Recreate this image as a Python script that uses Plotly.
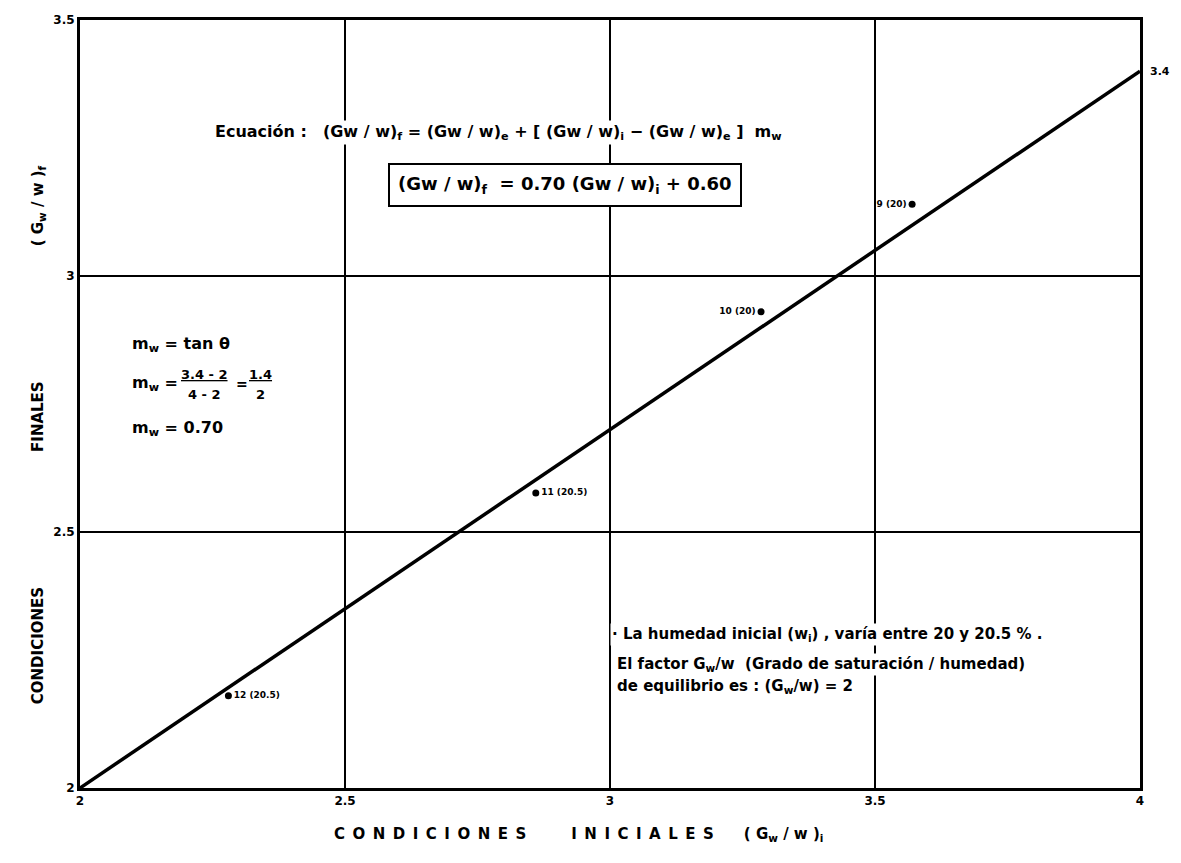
import plotly.graph_objects as go

# recta de ajuste: condiciones iniciales vs finales
recta_x = [2, 4]
recta_y = [2, 3.4]

# puntos de ensayo (muestra y humedad inicial)
puntos_x = [3.57, 3.285, 2.86, 2.28]
puntos_y = [3.14, 2.93, 2.576, 2.18]
etiquetas = ["9 (20)", "10 (20)", "11 (20.5)", "12 (20.5)"]
posiciones = ["middle left", "middle left", "middle right", "middle right"]

ticks_x = [2, 2.5, 3, 3.5, 4]
ticks_x_txt = ["2", "2.5", "3", "3.5", "4"]
ticks_y = [2, 2.5, 3, 3.5]
ticks_y_txt = ["2", "2.5", "3", "3.5"]

FUENTE = "'DejaVu Sans', sans-serif"
E = "\u2003"  # espacio ancho
M = "\u2002"  # medio espacio ancho


def espaciar(palabra):
    return M.join(palabra)


fig = go.Figure()

fig.add_trace(go.Scatter(x=recta_x, y=recta_y, mode="lines",
                         line=dict(color="black", width=3.5), hoverinfo="skip"))

fig.add_trace(go.Scatter(x=puntos_x, y=puntos_y, mode="markers+text",
                         marker=dict(color="black", size=7),
                         text=["<b>%s</b>" % e for e in etiquetas],
                         textposition=posiciones,
                         textfont=dict(family=FUENTE, size=9, color="black")))

def nota(x, y, texto, size=15, xanchor="left", **kw):
    fig.add_annotation(x=x, y=y, xref="x", yref="y", text=texto, showarrow=False,
                       xanchor=xanchor, yanchor="middle",
                       font=dict(family=FUENTE, size=size, color="black"), **kw)

# etiqueta del extremo de la recta
nota(recta_x[-1], recta_y[-1], "<b>3.4</b>", size=11, xshift=8)

# ecuación general y recta resultante
nota(2.25, 3.28, "<b>Ecuación :" + E + "(Gw / w)<sub>f</sub> = (Gw / w)<sub>e</sub> + [ (Gw / w)<sub>i</sub> − (Gw / w)<sub>e</sub> ]  m<sub>w</sub></b>",
     size=16, bgcolor="white")
nota(2.915, 3.178, "<b>(Gw / w)<sub>f</sub>  = 0.70 (Gw / w)<sub>i</sub> + 0.60</b>", size=18,
     xanchor="center", bgcolor="white", bordercolor="black", borderwidth=2, borderpad=8)

# pendiente
nota(2.094, 2.867, "<b>m<sub>w</sub> = tan θ</b>", size=16)
nota(2.094, 2.79, "<b>m<sub>w</sub> = </b>", size=16)
nota(2.235, 2.808, "<b><u>3.4 - 2</u></b>", size=13, xanchor="center")
nota(2.235, 2.768, "<b>4 - 2</b>", size=13, xanchor="center")
nota(2.305, 2.79, "<b>=</b>", size=14, xanchor="center")
nota(2.34, 2.808, "<b><u>1.4</u></b>", size=13, xanchor="center")
nota(2.34, 2.768, "<b>2</b>", size=13, xanchor="center")
nota(2.094, 2.703, "<b>m<sub>w</sub> = 0.70</b>", size=16)

# notas inferiores
nota(3.0, 2.30, "<b>· La humedad inicial (w<sub>i</sub>) , varía entre 20 y 20.5 % .</b>", size=15, bgcolor="white")
nota(3.01, 2.242, "<b>El factor G<sub>w</sub>/w  (Grado de saturación / humedad)</b>", size=15, bgcolor="white")
nota(3.01, 2.199, "<b>de equilibrio es : (G<sub>w</sub>/w) = 2</b>", size=15, bgcolor="white")

# títulos de ejes
fig.add_annotation(x=0.47, y=-0.075, xref="paper", yref="paper", showarrow=False,
                   text="<b>" + espaciar("CONDICIONES") + E * 3 + espaciar("INICIALES") + E * 2
                        + "( G<sub>w</sub> / w )<sub>i</sub></b>",
                   font=dict(family=FUENTE, size=15, color="black"))
fig.add_annotation(x=-0.05, y=0.46, xref="paper", yref="paper", showarrow=False, textangle=-90,
                   text="<b>CONDICIONES" + E * 9 + "FINALES" + E * 9 + "( G<sub>w</sub> / w )<sub>f</sub></b>",
                   font=dict(family=FUENTE, size=15, color="black"))

eje = dict(showline=True, linecolor="black", linewidth=3, mirror=True,
           showgrid=True, gridcolor="black", gridwidth=1.5, zeroline=False,
           ticks="", tickfont=dict(family=FUENTE, size=12, color="black"))

fig.update_xaxes(range=[2, 4], tickvals=ticks_x, ticktext=["<b>%s</b>" % t for t in ticks_x_txt], **eje)
fig.update_yaxes(range=[2, 3.5], tickvals=ticks_y, ticktext=["<b>%s</b>" % t for t in ticks_y_txt], **eje)

# la página añade 8 px de margen al cuerpo
fig.update_layout(width=1165, height=847, showlegend=False,
                  paper_bgcolor="white", plot_bgcolor="white",
                  margin=dict(l=72, r=33, t=5, b=67))

fig.write_html("out.html")
